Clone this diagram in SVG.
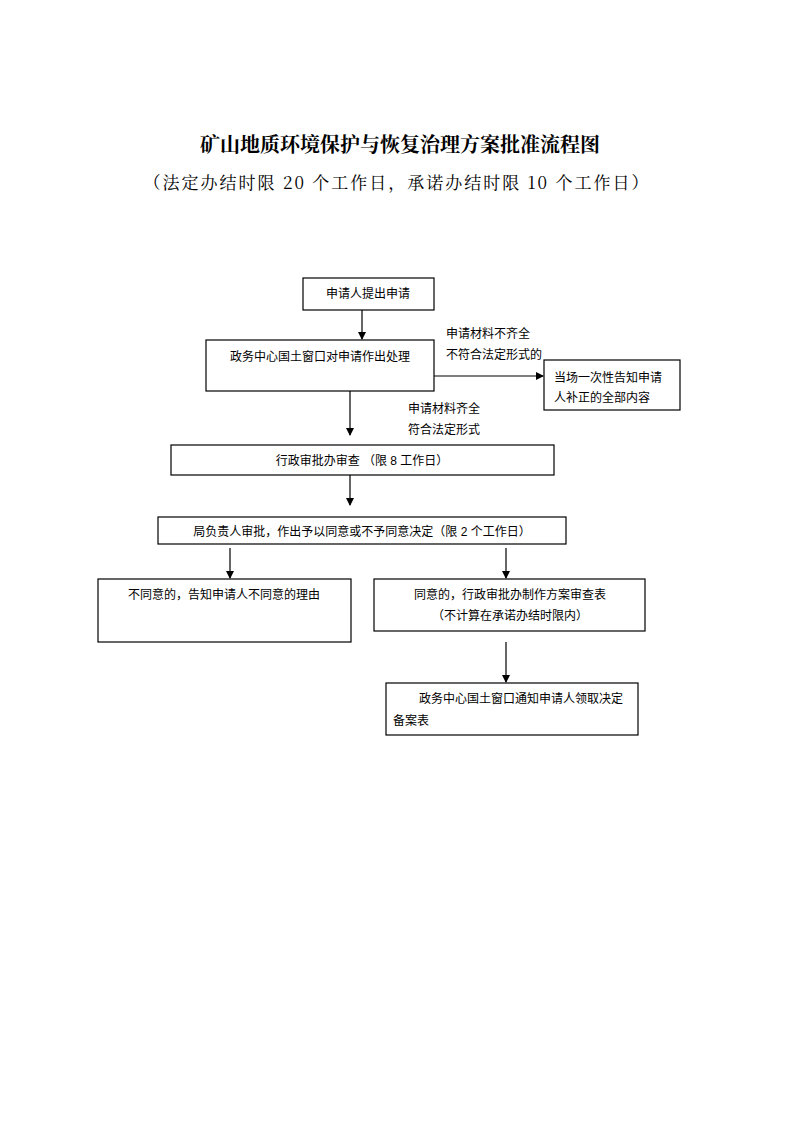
<svg xmlns="http://www.w3.org/2000/svg" width="794" height="1123" viewBox="0 0 794 1123">
<style>
.b{fill:#fff;stroke:#000;stroke-width:1.2}
.t{font-family:"Liberation Sans","Noto Sans CJK SC",sans-serif;font-size:12px;fill:#000}
.c{stroke:#000;stroke-width:1.2;fill:none;marker-end:url(#a)}
</style>
<defs><marker id="a" markerWidth="8" markerHeight="8" refX="7" refY="4" orient="auto" markerUnits="userSpaceOnUse"><path d="M0,0L8,4L0,8z" fill="#000"/></marker></defs>
<rect width="794" height="1123" fill="#fff"/>
<text x="400" y="152" text-anchor="middle" style="font-family:'Noto Serif CJK SC','Noto Sans CJK SC',serif;font-weight:bold;font-size:20px">矿山地质环境保护与恢复治理方案批准流程图</text>
<text x="397" y="189" text-anchor="middle" style="font-family:'Noto Serif CJK SC','Noto Sans CJK SC',serif;font-size:17px;letter-spacing:2px">（法定办结时限 20 个工作日，承诺办结时限 10 个工作日）</text>
<g id="connectors">
<line class="c" x1="362" y1="310" x2="362" y2="339"/>
<line class="c" x1="434" y1="376" x2="543" y2="376"/>
<line class="c" x1="350" y1="391" x2="350" y2="435"/>
<line class="c" x1="350" y1="475" x2="350" y2="505"/>
<line class="c" x1="230" y1="548" x2="230" y2="578"/>
<line class="c" x1="506" y1="548" x2="506" y2="578"/>
<line class="c" x1="506" y1="642" x2="506" y2="682"/>
<text class="t" x="446" y="338">申请材料不齐全</text>
<text class="t" x="446" y="359">不符合法定形式的</text>
<text class="t" x="408" y="413">申请材料齐全</text>
<text class="t" x="408" y="434">符合法定形式</text>
</g>
<g id="n1"><rect class="b" x="303" y="278" width="131" height="32"/><text class="t" x="368" y="298" text-anchor="middle">申请人提出申请</text></g>
<g id="n2"><rect class="b" x="206" y="340" width="228" height="51"/><text class="t" x="320" y="361" text-anchor="middle">政务中心国土窗口对申请作出处理</text></g>
<g id="n3"><rect class="b" x="544" y="360" width="136" height="50"/><text class="t" x="554" y="382">当场一次性告知申请</text><text class="t" x="554" y="402">人补正的全部内容</text></g>
<g id="n4"><rect class="b" x="171" y="445" width="383" height="30"/><text class="t" x="362" y="465" text-anchor="middle">行政审批办审查 （限 8 工作日）</text></g>
<g id="n5"><rect class="b" x="158" y="517" width="408" height="27"/><text class="t" x="362" y="536" text-anchor="middle">局负责人审批，作出予以同意或不予同意决定（限 2 个工作日）</text></g>
<g id="n6"><rect class="b" x="98" y="579" width="253" height="63"/><text class="t" x="224" y="599" text-anchor="middle">不同意的，告知申请人不同意的理由</text></g>
<g id="n7"><rect class="b" x="374" y="579" width="271" height="52"/><text class="t" x="510" y="599" text-anchor="middle">同意的，行政审批办制作方案审查表</text><text class="t" x="510" y="620" text-anchor="middle">（不计算在承诺办结时限内）</text></g>
<g id="n8"><rect class="b" x="386" y="683" width="252" height="52"/><text class="t" x="419" y="703">政务中心国土窗口通知申请人领取决定</text><text class="t" x="393" y="725">备案表</text></g>
</svg>
